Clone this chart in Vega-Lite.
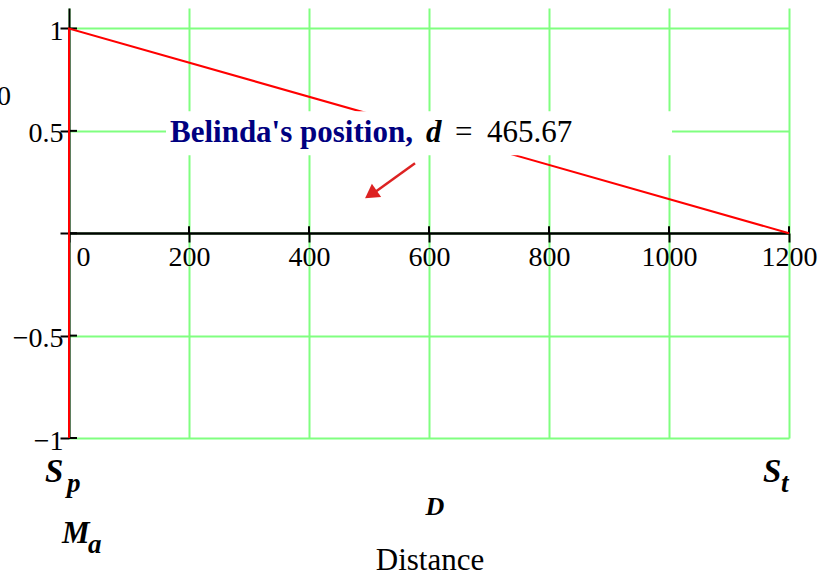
{
  "$schema": "https://vega.github.io/schema/vega-lite/v6.json",
  "width": 720,
  "height": 430,
  "autosize": {"type": "none"},
  "padding": {"left": 69, "top": 8, "right": 51, "bottom": 138},
  "background": "white",
  "config": {"view": {"stroke": null}, "font": "Liberation Serif"},
  "encoding": {
    "x": {
      "field": "x", "type": "quantitative", "title": null,
      "scale": {"domain": [0, 1200], "nice": false, "zero": false},
      "axis": {
        "values": [0, 200, 400, 600, 800, 1000, 1200],
        "offset": -205,
        "grid": true, "gridColor": "#80FF80", "gridWidth": 2, "gridOpacity": 1,
        "domainColor": "black", "domainWidth": 2.5,
        "tickColor": "black", "tickWidth": 2, "tickSize": 9,
        "labelFont": "Liberation Serif", "labelFontSize": 28, "labelColor": "black",
        "labelPadding": 1, "labelFlush": false, "labelOverlap": false,
        "labelOffset": {"condition": {"test": "datum.value === 0", "value": 14}, "value": 0},
        "format": "d"
      }
    },
    "y": {
      "field": "y", "type": "quantitative", "title": null,
      "scale": {"domain": [-1, 1.1], "nice": false, "zero": false},
      "axis": {
        "values": [-1, -0.5, 0, 0.5, 1],
        "grid": true, "gridColor": "#80FF80", "gridWidth": 2, "gridOpacity": 1,
        "domainColor": "black", "domainWidth": 2,
        "tickColor": "black", "tickWidth": 2, "tickSize": 9,
        "labelFont": "Liberation Serif", "labelFontSize": 28, "labelColor": "black",
        "labelPadding": -3, "labelOffset": 3, "labelOverlap": false, "labelFlush": false,
        "format": "~g",
        "labelExpr": "datum.value === 0 ? '' : datum.label"
      }
    }
  },
  "layer": [
    {
      "data": {"values": [
        {"x": 0, "x2": 13.3, "y": -1, "y2": -1},
        {"x": 0, "x2": 13.3, "y": -0.5, "y2": -0.5},
        {"x": 0, "x2": 13.3, "y": 0, "y2": 0},
        {"x": 0, "x2": 13.3, "y": 0.5, "y2": 0.5},
        {"x": 0, "x2": 13.3, "y": 1, "y2": 1},
        {"x": 200, "x2": 200, "y": 0, "y2": 0.034},
        {"x": 400, "x2": 400, "y": 0, "y2": 0.034},
        {"x": 600, "x2": 600, "y": 0, "y2": 0.034},
        {"x": 800, "x2": 800, "y": 0, "y2": 0.034},
        {"x": 1000, "x2": 1000, "y": 0, "y2": 0.034},
        {"x": 1200, "x2": 1200, "y": 0, "y2": 0.034}
      ]},
      "mark": {"type": "rule", "color": "black", "strokeWidth": 2},
      "encoding": {"x2": {"field": "x2"}, "y2": {"field": "y2"}}
    },
    {
      "data": {"values": [{"x": 0, "y": -1, "i": 0}, {"x": 0, "y": 1, "i": 1}, {"x": 1200, "y": 0, "i": 2}]},
      "mark": {"type": "line", "color": "#FF0000", "strokeWidth": 2},
      "encoding": {"order": {"field": "i", "type": "quantitative"}}
    },
    {
      "data": {"values": [{"x": 161.7, "x2": 1005, "y": 0.596, "y2": 0.381}]},
      "mark": {"type": "rect", "color": "white"},
      "encoding": {"x2": {"field": "x2"}, "y2": {"field": "y2"}}
    },
    {
      "data": {"values": [{"x": 576.7, "y": 0.342, "x2": 512, "y2": 0.205}]},
      "mark": {"type": "rule", "color": "#DD2222", "strokeWidth": 2.5},
      "encoding": {"x2": {"field": "x2"}, "y2": {"field": "y2"}}
    },
    {
      "data": {"values": [{"x": 503, "y": 0.19}]},
      "mark": {"type": "point", "shape": "triangle-up", "filled": true, "color": "#DD2222", "opacity": 1, "size": 260, "angle": 235},
      "encoding": {}
    },
    {
      "data": {"values": [{"x": -96.7, "y": 0.625, "t": "0"}]},
      "mark": {"type": "text", "font": "Liberation Serif", "fontSize": 28, "align": "right", "baseline": "alphabetic", "color": "black"},
      "encoding": {"text": {"field": "t"}}
    },
    {
      "data": {"values": [{"x": -40, "y": -1.216, "t": "S"}, {"x": 1156.7, "y": -1.216, "t": "S"}]},
      "mark": {"type": "text", "font": "Liberation Serif", "fontSize": 33, "fontWeight": "bold", "fontStyle": "italic", "align": "left", "baseline": "alphabetic", "color": "black"},
      "encoding": {"text": {"field": "t"}}
    },
    {
      "data": {"values": [{"x": -3.3, "y": -1.265, "t": "p"}, {"x": 1186.7, "y": -1.265, "t": "t"}, {"x": 31.7, "y": -1.5625, "t": "a"}]},
      "mark": {"type": "text", "font": "Liberation Serif", "fontSize": 27, "fontWeight": "bold", "fontStyle": "italic", "align": "left", "baseline": "alphabetic", "color": "black"},
      "encoding": {"text": {"field": "t"}}
    },
    {
      "data": {"values": [{"x": -11.7, "y": -1.514, "t": "M"}]},
      "mark": {"type": "text", "font": "Liberation Serif", "fontSize": 31, "fontWeight": "bold", "fontStyle": "italic", "align": "left", "baseline": "alphabetic", "color": "black"},
      "encoding": {"text": {"field": "t"}}
    },
    {
      "data": {"values": [{"x": 610, "y": -1.377, "t": "D"}]},
      "mark": {"type": "text", "font": "Liberation Serif", "fontSize": 26, "fontWeight": "bold", "fontStyle": "italic", "align": "center", "baseline": "alphabetic", "color": "black"},
      "encoding": {"text": {"field": "t"}}
    },
    {
      "data": {"values": [{"x": 601.7, "y": -1.646, "t": "Distance"}]},
      "mark": {"type": "text", "font": "Liberation Serif", "fontSize": 31, "align": "center", "baseline": "alphabetic", "color": "black"},
      "encoding": {"text": {"field": "t"}}
    },
    {
      "data": {"values": [{"x": 168.3, "y": 0.444, "t": "Belinda's position,"}]},
      "mark": {"type": "text", "font": "Liberation Serif", "fontSize": 31, "fontWeight": "bold", "align": "left", "baseline": "alphabetic", "color": "#000080"},
      "encoding": {"text": {"field": "t"}}
    },
    {
      "data": {"values": [{"x": 595, "y": 0.444, "t": "d"}]},
      "mark": {"type": "text", "font": "Liberation Serif", "fontSize": 31, "fontWeight": "bold", "fontStyle": "italic", "align": "left", "baseline": "alphabetic", "color": "black"},
      "encoding": {"text": {"field": "t"}}
    },
    {
      "data": {"values": [{"x": 643.3, "y": 0.444, "t": "="}, {"x": 696.7, "y": 0.444, "t": "465.67"}]},
      "mark": {"type": "text", "font": "Liberation Serif", "fontSize": 31, "align": "left", "baseline": "alphabetic", "color": "black"},
      "encoding": {"text": {"field": "t"}}
    }
  ]
}
